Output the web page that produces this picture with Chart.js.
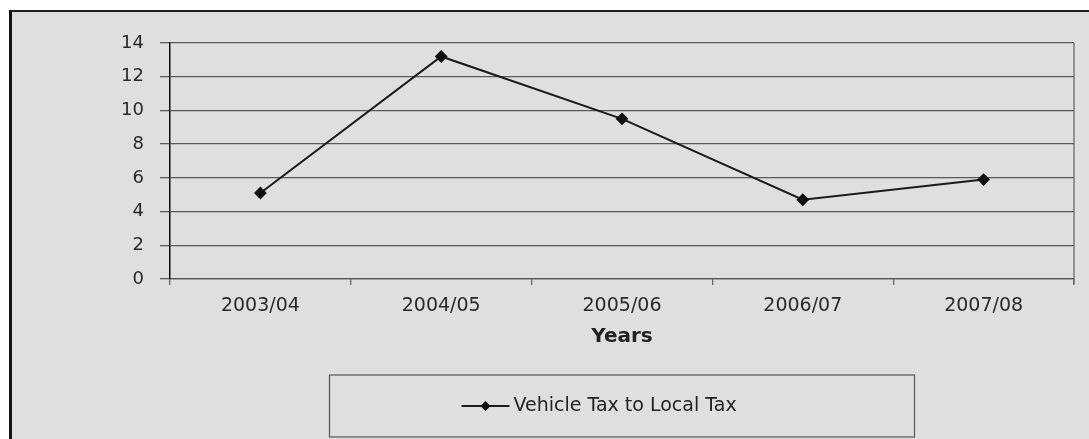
<!DOCTYPE html>
<html>
<head>
<meta charset="utf-8">
<script src="https://cdn.jsdelivr.net/npm/chart.js@4.4.1/dist/chart.umd.min.js"></script>
<style>
  html, body { margin: 0; padding: 0; background: #fff; }
  #frame {
    position: absolute; left: 9px; top: 10px; width: 1077px; height: 427px;
    border-left: 3px solid #111; border-top: 2px solid #222;
    background: #dfdfdf;
  }
  #wrap { position: absolute; left: 0; top: 0; width: 1089px; height: 439px; }
</style>
</head>
<body>
<div id="frame"></div>
<div id="wrap"><canvas id="myChart" width="1089" height="439"></canvas></div>
<script>
const years = ['2003/04', '2004/05', '2005/06', '2006/07', '2007/08']
const vehicleTaxShare = [5.1, 13.2, 9.5, 4.7, 5.9]
const seriesLabel = 'Vehicle Tax to Local Tax'
const axisTitle = 'Years'

const FONT = 'DejaVu Sans, Liberation Sans, Arial, sans-serif'

// plot frame + boxed legend under the axis title
const frameAndLegend = {
  id: 'frameAndLegend',
  afterDraw(chart) {
    const ctx = chart.ctx
    const a = chart.chartArea
    ctx.save()
    ctx.strokeStyle = '#6a6a6a'
    ctx.lineWidth = 1.3
    ctx.beginPath()
    ctx.moveTo(a.right, a.top)
    ctx.lineTo(a.right, a.bottom + 5)
    ctx.stroke()

    // legend box
    const xs = chart.scales.x
    const cx = (a.left + a.right) / 2
    const w = 585, h = 62
    const left = cx - w / 2
    const top = xs.bottom + 26
    ctx.strokeStyle = '#555'
    ctx.lineWidth = 1.2
    ctx.strokeRect(left, top, w, h)

    const midY = top + h / 2
    ctx.font = '19px ' + FONT
    const symW = 48
    const startX = left + 132
    ctx.strokeStyle = '#1a1a1a'
    ctx.lineWidth = 2
    ctx.beginPath()
    ctx.moveTo(startX, midY)
    ctx.lineTo(startX + symW, midY)
    ctx.stroke()
    const dx = startX + symW / 2
    ctx.fillStyle = '#111'
    ctx.beginPath()
    ctx.moveTo(dx, midY - 5)
    ctx.lineTo(dx + 5, midY)
    ctx.lineTo(dx, midY + 5)
    ctx.lineTo(dx - 5, midY)
    ctx.closePath()
    ctx.fill()
    ctx.fillStyle = '#222'
    ctx.textBaseline = 'middle'
    ctx.fillText(seriesLabel, startX + symW + 4, midY)
    ctx.restore()
  }
}

const ctx = document.getElementById('myChart')

new Chart(ctx, {
  type: 'line',
  data: {
    labels: years,
    datasets: [{
      label: seriesLabel,
      data: vehicleTaxShare,
      borderColor: '#1a1a1a',
      borderWidth: 2,
      pointStyle: 'rectRot',
      pointRadius: 5,
      pointBackgroundColor: '#111',
      pointBorderColor: '#111',
      tension: 0,
      fill: false
    }]
  },
  options: {
    responsive: false,
    animation: false,
    layout: { padding: { top: 43, right: 15, bottom: 90, left: 0 } },
    plugins: {
      legend: { display: false },
      tooltip: { enabled: false }
    },
    scales: {
      x: {
        offset: true,
        afterFit: (scale) => { scale.height = 70 },
        grid: {
          offset: true,
          drawOnChartArea: false,
          drawTicks: true,
          tickLength: 6,
          color: '#6a6a6a',
          lineWidth: 1.3
        },
        border: { display: true, color: '#555', width: 1.3 },
        ticks: {
          color: '#2a2a2a',
          font: { family: FONT, size: 19 },
          padding: 10,
          maxRotation: 0
        },
        title: {
          display: true,
          text: axisTitle,
          color: '#222',
          font: { family: FONT, size: 20, weight: 'bold' },
          padding: 0
        }
      },
      y: {
        min: 0,
        max: 14,
        afterFit: (scale) => { scale.width = 170 },
        grid: {
          color: '#5a5a5a',
          lineWidth: 1.3,
          tickLength: 10
        },
        border: { display: true, color: '#111', width: 1.5 },
        ticks: {
          stepSize: 2,
          color: '#2a2a2a',
          font: { family: FONT, size: 18 },
          padding: 16
        }
      }
    }
  },
  plugins: [frameAndLegend]
})
</script>
</body>
</html>
